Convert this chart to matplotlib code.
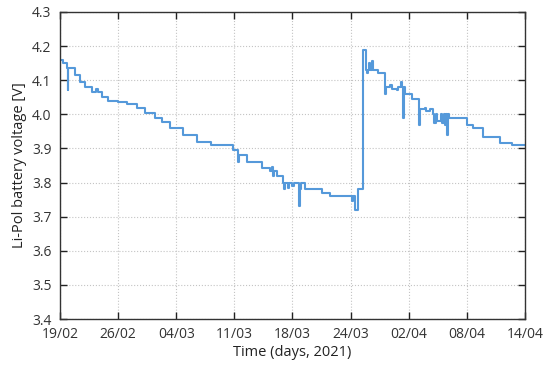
import matplotlib
matplotlib.use('Agg')
import matplotlib.pyplot as plt

# days since 19/02/2021 and battery voltage (step series, spikes included)
days = [0.0, 0.4, 0.85, 0.89, 0.95, 1.74, 2.32, 2.90, 3.72, 4.2, 4.4, 4.88, 5.57,
        6.74, 7.78, 8.94, 9.87, 11.03, 11.85, 12.77, 14.28, 15.91, 17.54, 20.09, 20.70,
        20.79, 21.72, 23.46, 24.39, 24.6, 24.74, 24.85, 25.2, 25.9, 26.0, 26.1, 26.5,
        26.6, 27.0, 27.2, 27.8, 27.9, 28.0, 28.45, 30.43, 31.35, 33.9, 34.0, 34.26,
        34.61, 35.19, 35.54, 35.65, 35.75, 35.88, 35.95, 36.23, 36.3, 36.93, 37.51,
        37.74, 37.85, 38.32, 38.6, 39.14, 39.25, 39.60, 39.7, 39.83, 39.95, 40.06,
        40.88, 41.57, 41.69, 41.81, 42.39, 42.5, 42.97, 43.32, 43.4, 43.67, 43.75,
        44.25, 44.35, 44.59, 44.67, 44.82, 44.9, 45.06, 45.15, 45.64, 47.26, 47.96,
        49.12, 51.10, 52.49, 54.0]
volts = [4.16, 4.15, 4.135, 4.07, 4.135, 4.115, 4.095, 4.08, 4.065, 4.075, 4.065, 4.05, 4.04,
         4.035, 4.03, 4.02, 4.005, 3.99, 3.977, 3.96, 3.94, 3.92, 3.91, 3.895, 3.86,
         3.88, 3.86, 3.843, 3.835, 3.845, 3.82, 3.835, 3.82, 3.80, 3.78, 3.80, 3.785,
         3.80, 3.79, 3.80, 3.73, 3.78, 3.80, 3.78, 3.77, 3.76, 3.745, 3.76, 3.72,
         3.78, 4.19, 4.13, 4.12, 4.13, 4.15, 4.13, 4.155, 4.13, 4.12, 4.12,
         4.06, 4.08, 4.085, 4.075, 4.07, 4.08, 4.095, 4.08, 3.99, 4.08, 4.06,
         4.045, 4.045, 3.97, 4.015, 4.02, 4.01, 4.015, 4.0, 3.975, 4.0, 3.98,
         4.0, 3.975, 4.0, 3.97, 4.0, 3.94, 4.0, 3.99, 3.99, 3.97, 3.96,
         3.935, 3.915, 3.91, 3.91]

tick_days = [0, 6.75, 13.5, 20.25, 27, 33.75, 40.5, 47.25, 54]
tick_labels = ['19/02', '26/02', '04/03', '11/03', '18/03', '24/03', '02/04', '08/04', '14/04']
yticks = [3.4, 3.5, 3.6, 3.7, 3.8, 3.9, 4.0, 4.1, 4.2, 4.3]

plt.rcParams['font.family'] = ['Open Sans', 'DejaVu Sans']
fig = plt.figure(figsize=(5.5, 3.71), dpi=100)
ax = fig.add_axes([0.109, 0.140, 0.8455, 0.8277])

ax.plot(days, volts, drawstyle='steps-post', color='#5599da', lw=1.5)

ax.set_xlim(0, 54)
ax.set_ylim(3.4, 4.3)
ax.set_xticks(tick_days)
ax.set_xticklabels(tick_labels)
ax.set_yticks(yticks)
ax.set_yticklabels(['%.1f' % v for v in yticks])
ax.grid(True, linestyle=':', color='#c4c4c4', lw=0.8)
ax.tick_params(direction='in', length=5, width=1, top=True, right=True,
               labelsize=10, colors='#222222', labelcolor='#333333')
ax.tick_params(axis='x', pad=6)
ax.tick_params(axis='y', pad=6)
for s in ax.spines.values():
    s.set_color('#333333')
    s.set_linewidth(1)

ax.set_xlabel('Time (days, 2021)', fontsize=10.5, color='#222222', labelpad=2)
ax.set_ylabel('Li-Pol battery voltage [V]', fontsize=10.5, color='#222222', labelpad=4)

fig.savefig('out.png', dpi=100)
